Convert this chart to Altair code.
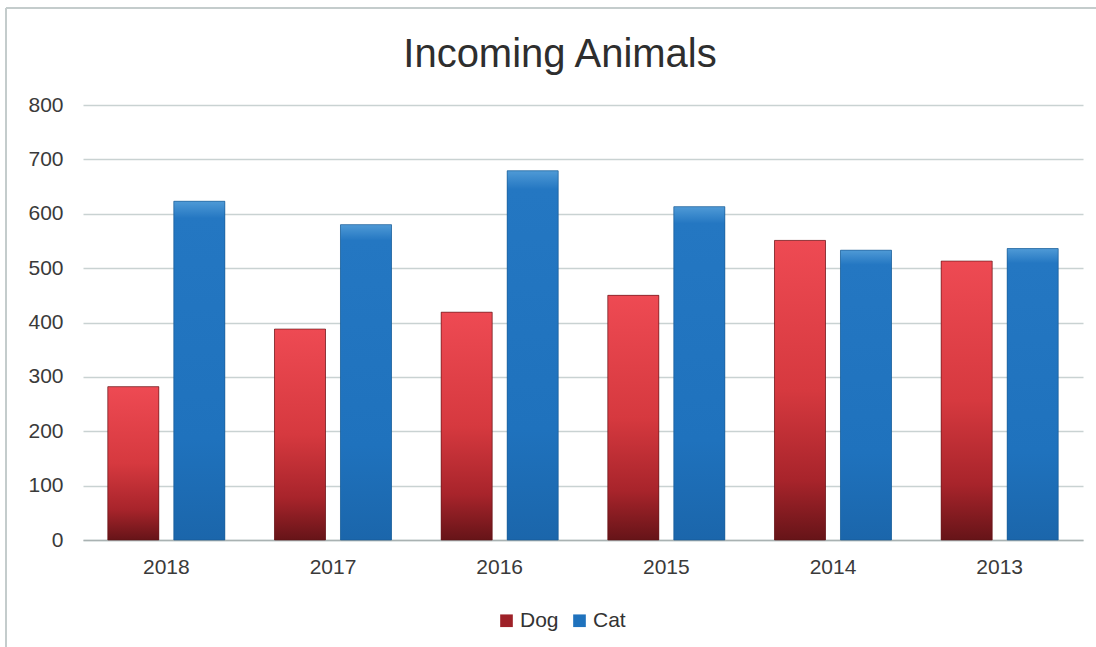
import altair as alt
import pandas as pd

# Yearly intake counts, newest year first
years = ["2018", "2017", "2016", "2015", "2014", "2013"]
dog = [282, 388, 419, 450, 551, 513]
cat = [623, 580, 679, 613, 533, 536]
series = ["Dog", "Cat"]

rows = []
for i, yr in enumerate(years):
    rows.append({"year": yr, "series": "Dog", "value": dog[i]})
    rows.append({"year": yr, "series": "Cat", "value": cat[i]})
df = pd.DataFrame(rows)

FONT = "Liberation Sans"
FRAME = "#c4cccc"

red_grad = {
    "gradient": "linear", "x1": 0, "y1": 0, "x2": 0, "y2": 1,
    "stops": [
        {"offset": 0, "color": "#ee4a53"},
        {"offset": 0.5, "color": "#d6393f"},
        {"offset": 0.8, "color": "#a8242b"},
        {"offset": 1, "color": "#661418"},
    ],
}
blue_grad = {
    "gradient": "linear", "x1": 0, "y1": 0, "x2": 0, "y2": 1,
    "stops": [
        {"offset": 0, "color": "#4f9ad6"},
        {"offset": 0.05, "color": "#2477c2"},
        {"offset": 0.7, "color": "#1f72bd"},
        {"offset": 1, "color": "#1b66ab"},
    ],
}

x_enc = alt.X(
    "year:N", sort=years,
    scale=alt.Scale(paddingInner=0, paddingOuter=0),
    axis=alt.Axis(title=None, labelAngle=0, labelFontSize=21, labelFont=FONT,
                  labelColor="#3a3a3a", labelPadding=16, ticks=False,
                  domainColor="#a9b2b2", domainWidth=1.5, grid=False),
)
xo_enc = alt.XOffset(
    "series:N", sort=series,
    scale=alt.Scale(domain=series, paddingInner=0.227, paddingOuter=0.376),
)
y_enc = alt.Y(
    "value:Q",
    scale=alt.Scale(domain=[0, 800]),
    axis=alt.Axis(title=None, values=list(range(0, 801, 100)), labelFontSize=21,
                  labelFont=FONT, labelColor="#3a3a3a", labelPadding=20,
                  ticks=False, domain=False, gridColor="#c9d2d2", gridWidth=1.5),
)

base = alt.Chart(df).encode(x=x_enc, xOffset=xo_enc, y=y_enc)

# Solid bars carry the legend
legend_bars = base.mark_bar().encode(
    color=alt.Color(
        "series:N", sort=series,
        scale=alt.Scale(domain=series, range=["#9e2128", "#1f72bd"]),
        legend=alt.Legend(title=None, orient="none", legendX=413, legendY=505,
                          direction="horizontal", symbolType="square",
                          symbolSize=160, symbolStrokeWidth=0, labelFontSize=21,
                          labelFont=FONT, labelColor="#333333", labelOffset=3,
                          columnPadding=10),
    )
)

# Shaded bars drawn on top
dog_bars = base.transform_filter(alt.datum.series == "Dog").mark_bar(
    fill=red_grad, stroke="#5c1216", strokeWidth=1, strokeOpacity=0.6
)
cat_bars = base.transform_filter(alt.datum.series == "Cat").mark_bar(
    fill=blue_grad, stroke="#17588f", strokeWidth=1, strokeOpacity=0.6
)

# Thin border framing the chart on its top and left sides
frame_src = alt.Chart(pd.DataFrame({"k": [0]}))
frame_top = frame_src.mark_rule(color=FRAME, strokeWidth=2).encode(
    x=alt.value(-77), x2=alt.value(1013), y=alt.value(-97)
)
frame_left = frame_src.mark_rule(color=FRAME, strokeWidth=2).encode(
    x=alt.value(-77), y=alt.value(-97), y2=alt.value(542)
)

chart = alt.layer(legend_bars, dog_bars, cat_bars, frame_top, frame_left).properties(
    width=1000,
    height=435,
    title=alt.TitleParams("Incoming Animals", fontSize=40, font=FONT,
                          fontWeight="normal", color="#2e2e2e", anchor="middle",
                          dx=-23, offset=0, dy=68),
    autosize=alt.AutoSizeParams(type="none"),
    padding={"left": 83, "top": 105, "right": 13, "bottom": 107},
).configure(background="white").configure_view(stroke=None)

chart.save("out.html", embed_options={"renderer": "svg", "actions": False})
